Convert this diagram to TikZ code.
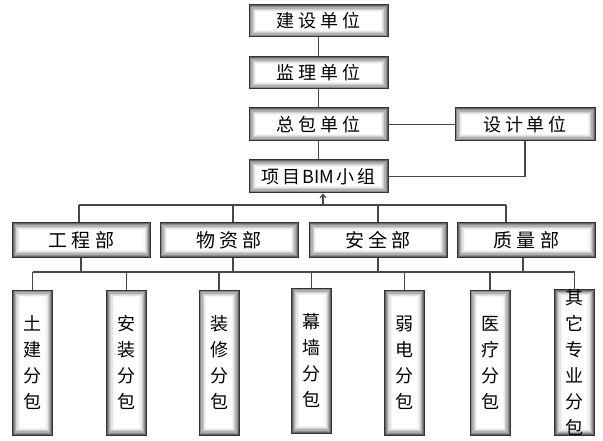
\documentclass[tikz,border=0pt]{standalone}
\usepackage{fontspec}
\setmainfont{Noto Sans CJK SC}
\usetikzlibrary{arrows.meta}
\newcommand\cg{\hspace{4pt}}
\newcommand\cgs{\hspace{2.5pt}}
\begin{document}
\begin{tikzpicture}[x=1pt,y=-1pt,
  box/.style={draw=black!80, line width=1pt, fill=white, inner sep=0pt,
    path picture={
      \foreach \shd/\grv in {0/60,1.2/45,2.4/31,3.6/19,4.8/10,6/4}{
        \fill[black!\grv] ([shift={(\shd,-\shd)}]path picture bounding box.south west)
          rectangle ([shift={(-\shd,\shd)}]path picture bounding box.north east);
      }
      \fill[white] ([shift={(7.2,-7.2)}]path picture bounding box.south west)
          rectangle ([shift={(-7.2,7.2)}]path picture bounding box.north east);
    }},
  hbox/.style={box, minimum width=139pt, minimum height=32pt, font=\fontsize{18}{20}\selectfont},
  dbox/.style={box, minimum width=138pt, minimum height=34pt, font=\fontsize{19}{21}\selectfont},
  vbox/.style={box, minimum width=40pt, minimum height=145pt, align=center, font=\fontsize{18}{26}\selectfont},
  link/.style={draw=black!72, line width=1.1pt}]
\useasboundingbox (0,0) rectangle (603,441);

% top chain
\node[hbox] (js) at (318.5,21) {建\cg 设\cg 单\cg 位};
\node[hbox] (jl) at (318.5,73) {监\cg 理\cg 单\cg 位};
\node[hbox, minimum height=33pt] (zb) at (318.5,124.5) {总\cg 包\cg 单\cg 位};
\node[hbox, minimum width=140pt, minimum height=33pt] (sj) at (525,124.5) {设\cg 计\cg 单\cg 位};
\node[hbox, minimum height=33pt] (xm) at (318.5,176.5) {项\cgs 目\cgs BIM\cgs 小\cgs 组};

% departments
\node[dbox] (gc) at (81.5,240) {工\hspace{4.5pt}程\hspace{4.5pt}部};
\node[dbox] (wz) at (229,240) {物\hspace{4.5pt}资\hspace{4.5pt}部};
\node[dbox] (aq) at (378,240) {安\hspace{4.5pt}全\hspace{4.5pt}部};
\node[dbox] (zl) at (526.5,240) {质\hspace{4.5pt}量\hspace{4.5pt}部};

% sub-contractors
\node[vbox] (v1) at (32.5,362.5) {土\\建\\分\\包};
\node[vbox] (v2) at (126.5,362.5) {安\\装\\分\\包};
\node[vbox] (v3) at (219,362.5) {装\\修\\分\\包};
\node[vbox] (v4) at (311.5,360.5) {幕\\墙\\分\\包};
\node[vbox] (v5) at (404.5,362.5) {弱\\电\\分\\包};
\node[vbox] (v6) at (490,362.5) {医\\疗\\分\\包};
\node[vbox] (v7) at (574.5,362.5) {其\\它\\专\\业\\分\\包};

% connectors
\draw[link] (js) -- (jl);
\draw[link] (jl) -- (zb);
\draw[link] (zb) -- (xm);
\draw[link] (zb) -- (sj);
\draw[link] (sj.south) |- (xm.east);

\coordinate (tb) at (0,205);
\coordinate (bb) at (0,272);
\draw[link] ([xshift=-2.5pt]gc.north |- tb) -- ([xshift=-20.5pt]zl.north |- tb);
\draw[link, -{Straight Barb[length=3.5pt,width=6pt]}] ([xshift=4.5pt]xm.south |- tb) -- ([xshift=4.5pt]xm.south);
\draw[link] ([xshift=-2.5pt]gc.north |- tb) -- ([xshift=-2.5pt]gc.north);
\draw[link] ([xshift=4pt]wz.north |- tb) -- ([xshift=4pt]wz.north);
\draw[link] (aq.north |- tb) -- (aq.north);
\draw[link] ([xshift=-20.5pt]zl.north |- tb) -- ([xshift=-20.5pt]zl.north);

\draw[link] (v1.north |- bb) -- (v7.north |- bb);
\draw[link] ([xshift=-0.5pt]gc.south) -- ([xshift=-0.5pt]gc.south |- bb);
\draw[link] ([xshift=4pt]wz.south) -- ([xshift=4pt]wz.south |- bb);
\draw[link] (aq.south) -- (aq.south |- bb);
\draw[link] ([xshift=-3.5pt]zl.south) -- ([xshift=-3.5pt]zl.south |- bb);
\foreach \vv in {v1,v2,v3,v4,v5,v6,v7}{
  \draw[link] (\vv.north |- bb) -- (\vv.north);
}
\end{tikzpicture}
\end{document}
